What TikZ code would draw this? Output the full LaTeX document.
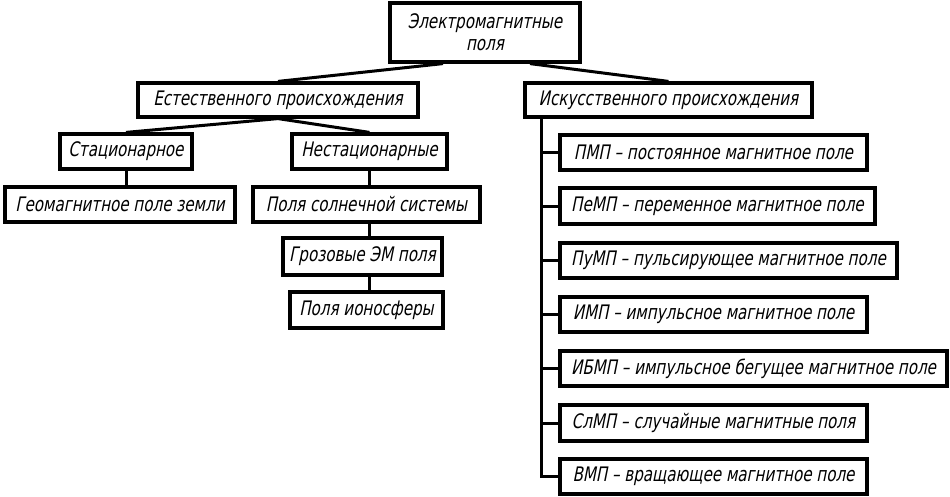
\documentclass[tikz,border=0pt]{standalone}
\usepackage{fontspec}
\newfontfamily\gost{DejaVu Sans Condensed}[FakeSlant=0.2,FakeStretch=0.84]
\begin{document}
\begin{tikzpicture}[x=1pt,y=-1pt,
  box/.style={draw=black, line width=3.2pt, fill=white, inner sep=0pt,
    font=\gost\fontsize{20}{22}\selectfont, align=center},
  link/.style={draw=black, line width=3pt}]
\useasboundingbox (0,0) rectangle (950,496);
\fill[white] (0,0) rectangle (950,496);
\newcommand\bx[6]{\node[box, minimum width=#4pt, minimum height=#5pt] (#1) at (#2,#3) {#6};}
\coordinate (topL) at (443,62);
\coordinate (topR) at (530,62);
\bx{top}{485}{32.5}{190}{59}{Электромагнитные\\поля}
\bx{est}{278}{100}{280}{34}{Естественного происхождения}
\bx{isk}{668.5}{100}{287}{34}{Искусственного происхождения}
\bx{stat}{126}{151.5}{132}{35}{Стационарное}
\bx{nestat}{369.5}{151.5}{155}{35}{Нестационарные}
\bx{geo}{120}{204.5}{230}{35}{Геомагнитное поле земли}
\bx{sol}{366.5}{204.5}{227}{35}{Поля солнечной системы}
\bx{groz}{362.5}{256.5}{159}{37}{Грозовые ЭМ поля}
\bx{iono}{366.5}{310}{153}{36}{Поля ионосферы}
\bx{pmp}{713.5}{152.5}{307}{35}{ПМП – постоянное магнитное поле}
\bx{pemp}{717.5}{206}{315}{36}{ПеМП – переменное магнитное поле}
\bx{pump}{728.5}{260.5}{337}{35}{ПуМП – пульсирующее магнитное поле}
\bx{imp}{713.5}{314.5}{307}{35}{ИМП – импульсное магнитное поле}
\bx{ibmp}{753.5}{368.5}{387}{35}{ИБМП – импульсное бегущее магнитное поле}
\bx{slmp}{713.5}{423}{307}{36}{СлМП – случайные магнитные поля}
\bx{vmp}{713.5}{476.5}{307}{35}{ВМП – вращающее магнитное поле}
% connectors
\draw[link] (top.south -| topL) -- (est.north);
\draw[link] (top.south -| topR) -- (isk.north);
\draw[link] (est.south) -- (stat.north);
\draw[link] (est.south) -- (nestat.north);
\draw[link] (stat.south) -- (stat.south |- geo.north);
\draw[link] (nestat.south) -- (nestat.south |- sol.north);
\draw[link] (nestat.south |- sol.south) -- (nestat.south |- groz.north);
\draw[link] (nestat.south |- groz.south) -- (nestat.south |- iono.north);
\coordinate (t0) at ([xshift=18pt]isk.south west);
\draw[link] (t0) |- (vmp.west);
\foreach \n in {pmp,pemp,pump,imp,ibmp,slmp}
  \draw[link] (t0 |- \n.west) -- (\n.west);
\end{tikzpicture}
\end{document}
